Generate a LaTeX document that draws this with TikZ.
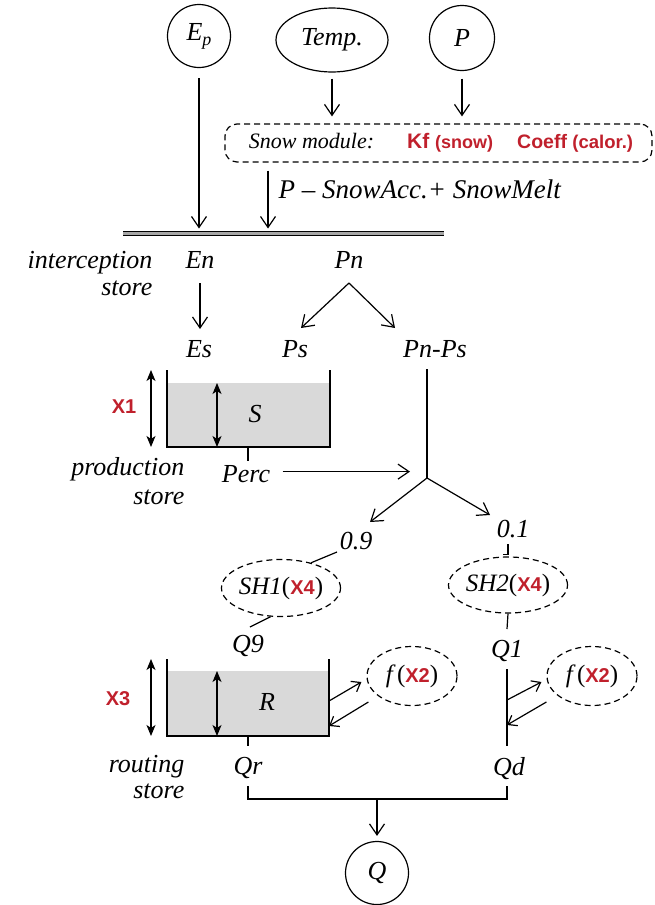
\documentclass[tikz,border=0pt]{standalone}
\usepackage{fontspec}
\setmainfont{Liberation Serif}
\setsansfont{Liberation Sans}
\usetikzlibrary{arrows.meta,shapes.geometric}
\definecolor{xred}{RGB}{192,32,44}
\definecolor{tankgray}{RGB}{217,217,217}
\newcommand\xr[1]{{\color{xred}\sffamily\bfseries\upshape #1}}
\begin{document}
\begin{tikzpicture}[x=1pt,y=-1pt,line width=1.2pt,
  lbl/.style={font=\fontsize{26}{30}\selectfont\itshape,inner sep=0pt},
  xlab/.style={font=\fontsize{20}{24}\selectfont\sffamily\bfseries,text=xred,inner sep=0pt},
  circ/.style={draw,circle,minimum size=63pt,inner sep=0pt,font=\fontsize{26}{30}\selectfont\itshape},
  ell/.style={draw,ellipse,inner sep=0pt,font=\fontsize{26}{30}\selectfont\itshape},
  dell/.style={ell,dash pattern=on 6pt off 4pt,font=\fontsize{25}{30}\selectfont\itshape},
  arr/.style={-{Straight Barb[length=11pt,width=15pt]}},
  arrs/.style={-{Straight Barb[length=8pt,width=12pt]}},
  dbl/.style={{Stealth[length=11pt,width=9pt,inset=3pt]}-{Stealth[length=11pt,width=9pt,inset=3pt]}}]
\useasboundingbox (0,0) rectangle (654,905);
% inputs
\node[circ] (ep) at (199,36) {E\raisebox{-5pt}{\fontsize{18}{20}\selectfont p}};
\node[ell,minimum width=112pt,minimum height=64pt] (temp) at (332,40) {Temp.};
\node[circ,minimum size=65pt] (p) at (462,38) {P};
\node[draw,dash pattern=on 6pt off 4pt,rounded corners=12pt,minimum width=427pt,minimum height=38pt,inner sep=0pt] (snow) at (438.5,143)
  {\hspace{5pt}{\fontsize{22}{26}\selectfont\itshape Snow module:}\hspace{33pt}\xr{\fontsize{21}{24}\selectfont Kf \fontsize{18}{21}\selectfont(snow)}\hspace{24pt}\xr{\fontsize{19.5}{23}\selectfont Coeff \fontsize{18.5}{21}\selectfont(calor.)}};
\node[lbl,font=\fontsize{27}{30}\selectfont\itshape,anchor=base west] (melt) at (278,198) {P -- SnowAcc.+ SnowMelt};
\coordinate (barL) at (123,233.5);
\coordinate (barR) at (444,233.5);
\draw[line width=1.3pt,double=gray!70,double distance=2.4pt] (barL) -- (barR);
\draw[arr] ([yshift=-10pt]ep.south) -- ([yshift=5pt]ep.south |- barL);
\draw[arr] ([yshift=-6pt]temp.south) -- ([yshift=7pt]temp.south |- snow.north);
\draw[arr] ([yshift=-7.5pt]p.south) -- ([yshift=7pt]p.south |- snow.north);
\draw[arr] ([xshift=-10pt,yshift=-8pt]snow.south -| melt.west) -- ([xshift=-10pt,yshift=5pt]barL -| melt.west);
% interception
\node[lbl,anchor=base east] (ic1) at (153,268) {interception};
\node[lbl,anchor=base east] (ic2) at (153,295) {store};
\node[lbl,anchor=base] (en) at (200,268) {En};
\node[lbl,anchor=base] (pn) at (349,268) {Pn};
\node[lbl,anchor=base] (es) at (199,357) {Es};
\node[lbl,anchor=base] (ps) at (295,357) {Ps};
\node[lbl,anchor=base] (pnps) at (435,357) {Pn-Ps};
\draw[arr] ([yshift=-15pt]en.base) -- ([yshift=28pt]en.base |- es.base);
\coordinate (apex) at ([yshift=-15pt]pn.base);
\draw[arr] (apex) -- ([xshift=6pt,yshift=29pt]ps.base);
\draw[arr] (apex) -- ([xshift=-40pt,yshift=29pt]pnps.base);
% production store
\coordinate (t1tl) at (167,370);
\coordinate (t1bl) at (167,447);
\coordinate (t1br) at (330,447);
\coordinate (t1tr) at (330,370);
\fill[tankgray] ([yshift=-13pt]t1tl) rectangle (t1br);
\draw (t1tl) -- (t1bl) -- (t1br) -- (t1tr);
\draw[dbl] ([xshift=-16pt]t1tl) -- ([xshift=-16pt]t1bl);
\draw[dbl] ([xshift=50pt,yshift=-13pt]t1tl) -- ([xshift=50pt]t1bl);
\node[lbl] (S) at (255,414) {S};
\node[xlab] (x1) at (124,407) {X1};
\node[lbl,anchor=base east] (pr1) at (185,475) {production};
\node[lbl,anchor=base east] (pr2) at (185,504) {store};
\node[lbl,anchor=base] (perc) at (246,482) {Perc};
\coordinate (J) at (427,478);
\draw ([xshift=81pt]t1bl) -- ++(0,14);
\draw[arr] ([xshift=12pt,yshift=2pt]perc.east) -- ([xshift=-17pt,yshift=2pt]J |- perc.east);
\draw ([yshift=-12pt]pnps.base -| J) -- (J);
% split
\node[lbl,anchor=base] (n09) at (356,549) {0.9};
\node[lbl,anchor=base] (n01) at (513,537) {0.1};
\draw[arr] (J) -- ([xshift=14pt,yshift=27pt]n09.base);
\draw[arr] (J) -- ([xshift=-23pt,yshift=22pt]n01.base);
\node[dell,minimum width=108pt,minimum height=57pt] (sh1) at (281,588) {SH1\textup{(}\xr{\fontsize{20}{24}\selectfont X4}\textup{)}};
\node[dell,minimum width=110pt,minimum height=56pt] (sh2) at (508,585) {SH2\textup{(}\xr{\fontsize{20}{24}\selectfont X4}\textup{)}};
\draw ([xshift=-19pt,yshift=-3pt]n09.base) -- (sh1.40);
\draw ([yshift=-7pt]n01.base -| sh2.north) -- ([yshift=2pt]sh2.north) -- ++(-5,0);
\node[lbl,anchor=base] (q9) at (248,652) {Q9};
\node[lbl,anchor=base] (q1) at (507,657) {Q1};
\draw (sh1.250) -- ([xshift=2pt,yshift=25pt]q9.base);
\draw (sh2.south) -- ([yshift=28pt]q1.base);
% routing store
\coordinate (t2tl) at (167,659);
\coordinate (t2bl) at (167,736);
\coordinate (t2br) at (329,736);
\coordinate (t2tr) at (329,659);
\fill[tankgray] ([yshift=-12pt]t2tl) rectangle (t2br);
\draw (t2tl) -- (t2bl) -- (t2br) -- (t2tr);
\draw[dbl] ([xshift=-16pt]t2tl) -- ([xshift=-16pt]t2bl);
\draw[dbl] ([xshift=50pt,yshift=-12pt]t2tl) -- ([xshift=50pt]t2bl);
\node[lbl] (R) at (267,702) {R};
\node[xlab] (x3) at (118,699) {X3};
\node[lbl,anchor=base east] (ro1) at (185,772) {routing};
\node[lbl,anchor=base east] (ro2) at (185,798) {store};
\node[dell,minimum width=90pt,minimum height=59pt] (f1) at (412,676) {f\,\textup{(}\xr{\fontsize{20}{24}\selectfont X2}\textup{)}};
\node[dell,minimum width=90pt,minimum height=59pt] (f2) at (592,676) {f\,\textup{(}\xr{\fontsize{20}{24}\selectfont X2}\textup{)}};
\draw[arrs] ([yshift=35pt]t2br) -- ([xshift=-5pt,yshift=-6pt]f1.west);
\draw[arrs] ([xshift=2pt,yshift=-26pt]f1.west) -- ([yshift=10pt]t2br);
\node[lbl,anchor=base] (qr) at (248,774) {Qr};
\node[lbl,anchor=base] (qd) at (509,775) {Qd};
\coordinate (q1a) at ([yshift=-12pt]q1.base);
\coordinate (q1b) at ([yshift=29pt]q1.base |- qd.base);
\draw (q1a) -- (q1b);
\draw[arrs] ([yshift=46pt]q1b) -- ([xshift=-5pt,yshift=-6pt]f2.west);
\draw[arrs] ([xshift=0pt,yshift=-26pt]f2.west) -- ([yshift=21pt]q1b);
\draw ([yshift=38pt]qr.base) -- ([yshift=28pt]qr.base);
% outlet
\node[circ] (q) at (377,873) {Q};
\coordinate (jr) at ([yshift=-25pt]qr.base);
\coordinate (jd) at (jr -| q1.base);
\draw ([yshift=-12pt]qr.base) -- (jr) -- (jd) -- ([yshift=-11pt]qd.base -| q1.base);
\draw[arr] (jr -| q.north) -- ([yshift=5pt]q.north);
\end{tikzpicture}
\end{document}
